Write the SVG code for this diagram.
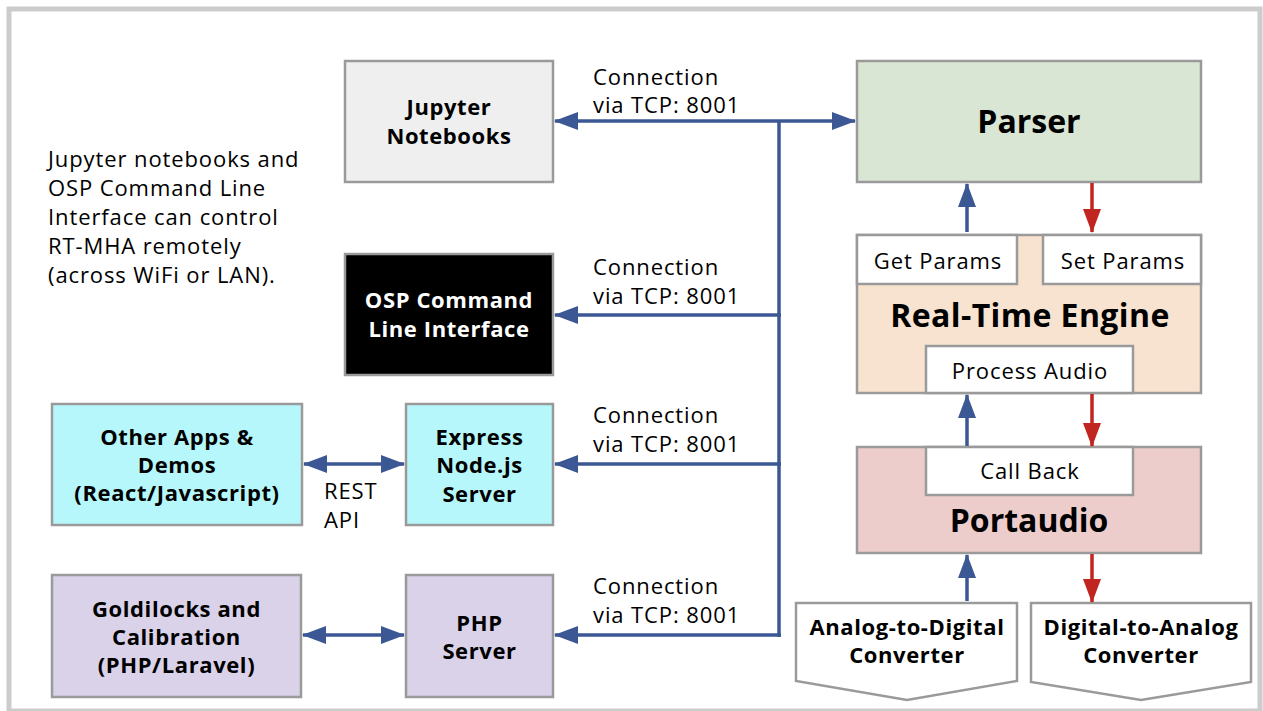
<svg xmlns="http://www.w3.org/2000/svg" width="1263" height="711" viewBox="0 0 1263 711">
<style>
  text { font-family: "Open Sans", "Liberation Sans", sans-serif; fill: #000; }
  .reg { font-size: 22px; letter-spacing: 0.9px; }
  .b { font-size: 22px; font-weight: bold; text-anchor: middle; letter-spacing: 0.6px; }
  .big { font-size: 32px; font-weight: bold; text-anchor: middle; }
  .mid { text-anchor: middle; }
  .box { stroke: #9a9a9a; stroke-width: 2.5; }
  .blue { stroke: #3b5794; stroke-width: 3.5; fill: none; }
  .red { stroke: #c0261f; stroke-width: 3.5; fill: none; }
</style>
<defs>
  <marker id="ab" markerUnits="userSpaceOnUse" markerWidth="24" markerHeight="18" refX="23" refY="9" orient="auto-start-reverse">
    <path d="M0,0 L24,9 L0,18 Z" fill="#3b5794"/>
  </marker>
  <marker id="ar" markerUnits="userSpaceOnUse" markerWidth="24" markerHeight="18" refX="23" refY="9" orient="auto">
    <path d="M0,0 L24,9 L0,18 Z" fill="#c0261f"/>
  </marker>
</defs>
<rect width="1263" height="711" fill="#ffffff"/>
<rect x="9" y="9" width="1251" height="702" fill="none" stroke="#cccccc" stroke-width="5"/>

<g id="note">
  <text class="reg" x="48" y="167">Jupyter notebooks and</text>
  <text class="reg" x="48" y="196">OSP Command Line</text>
  <text class="reg" x="48" y="225">Interface can control</text>
  <text class="reg" x="48" y="254">RT-MHA remotely</text>
  <text class="reg" x="48" y="283">(across WiFi or LAN).</text>
</g>

<g id="jupyter">
  <rect class="box" x="345" y="61" width="208" height="121" fill="#efefef"/>
  <text class="b" x="449" y="115">Jupyter</text>
  <text class="b" x="449" y="144">Notebooks</text>
</g>
<g id="osp-cli">
  <rect class="box" x="345" y="254" width="208" height="121" fill="#000000"/>
  <text class="b" x="449" y="308" style="fill:#ffffff">OSP Command</text>
  <text class="b" x="449" y="337" style="fill:#ffffff">Line Interface</text>
</g>
<g id="other-apps">
  <rect class="box" x="52" y="404" width="250" height="121" fill="#b6f7fb"/>
  <text class="b" x="177" y="445">Other Apps &amp;</text>
  <text class="b" x="177" y="473">Demos</text>
  <text class="b" x="177" y="501">(React/Javascript)</text>
</g>
<g id="express">
  <rect class="box" x="406" y="404" width="147" height="121" fill="#b6f7fb"/>
  <text class="b" x="479.5" y="445">Express</text>
  <text class="b" x="479.5" y="473">Node.js</text>
  <text class="b" x="479.5" y="502">Server</text>
</g>
<g id="goldilocks">
  <rect class="box" x="52" y="575" width="249" height="122" fill="#d9d2e9"/>
  <text class="b" x="176.5" y="617">Goldilocks and</text>
  <text class="b" x="176.5" y="645">Calibration</text>
  <text class="b" x="176.5" y="673">(PHP/Laravel)</text>
</g>
<g id="php">
  <rect class="box" x="406" y="575" width="147" height="122" fill="#d9d2e9"/>
  <text class="b" x="479.5" y="631">PHP</text>
  <text class="b" x="479.5" y="659">Server</text>
</g>

<g id="parser">
  <rect class="box" x="857" y="61" width="344" height="121" fill="#d9e6d4"/>
  <text class="big" x="1029" y="133">Parser</text>
</g>
<g id="real-time-engine">
  <rect class="box" x="857" y="235" width="344" height="158" fill="#f7e3cf"/>
  <text class="big" x="1030" y="327" style="font-size:32px;letter-spacing:0.4px">Real-Time Engine</text>
  <rect class="box" x="857" y="235" width="160" height="49" fill="#ffffff"/>
  <text class="reg mid" x="938" y="269">Get Params</text>
  <rect class="box" x="1043" y="235" width="158" height="49" fill="#ffffff"/>
  <text class="reg mid" x="1123" y="269">Set Params</text>
  <rect class="box" x="926" y="346" width="207" height="47" fill="#ffffff"/>
  <text class="reg mid" x="1030" y="379">Process Audio</text>
</g>
<g id="portaudio">
  <rect class="box" x="857" y="447" width="344" height="106" fill="#edcdcc"/>
  <rect class="box" x="926" y="447" width="207" height="48" fill="#ffffff"/>
  <text class="reg mid" x="1030" y="479">Call Back</text>
  <text class="big" x="1029" y="532">Portaudio</text>
</g>
<g id="adc">
  <path class="box" d="M796,603 L1017,603 L1017,681 L907,700 L796,681 Z" fill="#ffffff"/>
  <text class="b" x="907" y="635">Analog-to-Digital</text>
  <text class="b" x="907" y="663">Converter</text>
</g>
<g id="dac">
  <path class="box" d="M1031,603 L1251,603 L1251,682 L1141,700 L1031,682 Z" fill="#ffffff"/>
  <text class="b" x="1141" y="635">Digital-to-Analog</text>
  <text class="b" x="1141" y="663">Converter</text>
</g>

<g id="connectors">
  <line class="blue" x1="555" y1="121" x2="855" y2="121" marker-start="url(#ab)" marker-end="url(#ab)"/>
  <line class="blue" x1="779" y1="121" x2="779" y2="637"/>
  <line class="blue" x1="781" y1="315" x2="555" y2="315" marker-end="url(#ab)"/>
  <line class="blue" x1="781" y1="464" x2="555" y2="464" marker-end="url(#ab)"/>
  <line class="blue" x1="781" y1="635" x2="555" y2="635" marker-end="url(#ab)"/>
  <line class="blue" x1="304" y1="464" x2="404" y2="464" marker-start="url(#ab)" marker-end="url(#ab)"/>
  <line class="blue" x1="303" y1="635" x2="404" y2="635" marker-start="url(#ab)" marker-end="url(#ab)"/>
  <line class="blue" x1="967" y1="232" x2="967" y2="184" marker-end="url(#ab)"/>
  <line class="red" x1="1092" y1="183" x2="1092" y2="232" marker-end="url(#ar)"/>
  <line class="blue" x1="967" y1="446" x2="967" y2="395" marker-end="url(#ab)"/>
  <line class="red" x1="1092" y1="394" x2="1092" y2="446" marker-end="url(#ar)"/>
  <line class="blue" x1="967" y1="601" x2="967" y2="555" marker-end="url(#ab)"/>
  <line class="red" x1="1092" y1="554" x2="1092" y2="602" marker-end="url(#ar)"/>
</g>

<g id="labels">
  <text class="reg" x="593" y="85">Connection</text>
  <text class="reg" x="593" y="113">via TCP: 8001</text>
  <text class="reg" x="593" y="275">Connection</text>
  <text class="reg" x="593" y="304">via TCP: 8001</text>
  <text class="reg" x="593" y="423">Connection</text>
  <text class="reg" x="593" y="452">via TCP: 8001</text>
  <text class="reg" x="593" y="594">Connection</text>
  <text class="reg" x="593" y="623">via TCP: 8001</text>
  <text class="reg" x="324" y="499">REST</text>
  <text class="reg" x="324" y="528">API</text>
</g>
</svg>
